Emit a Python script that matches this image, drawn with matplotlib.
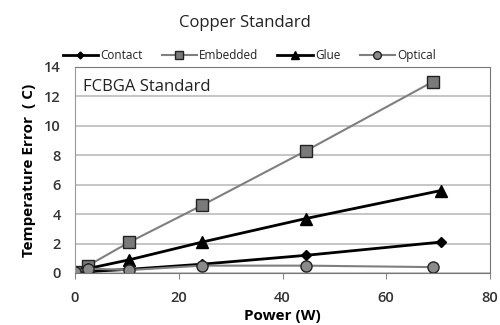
import matplotlib
matplotlib.use('Agg')
import matplotlib.pyplot as plt

power = [0, 2.5, 10.5, 24.5, 44.5, 70.5]
power_emb = [0, 2.5, 10.5, 24.5, 44.5, 69]
power_opt = [0, 2.5, 10.5, 24.5, 44.5, 69]
contact = [0.05, 0.1, 0.25, 0.6, 1.2, 2.1]
embedded = [0.1, 0.5, 2.1, 4.6, 8.3, 13.0]
glue = [0.05, 0.3, 0.9, 2.1, 3.7, 5.6]
optical = [0.05, 0.3, 0.2, 0.5, 0.5, 0.4]

plt.rcParams['font.family'] = 'Open Sans'
plt.rcParams['text.color'] = '#222222'

fig = plt.figure(figsize=(5, 3.25), dpi=100)
ax = fig.add_axes([0.15, 0.16, 0.83, 0.634])

ax.plot(power, contact, color='black', lw=2, marker='D', ms=5, mfc='black', mec='black', label='Contact')
ax.plot(power_emb, embedded, color='#7f7f7f', lw=1.5, marker='s', ms=8, mfc='#7a7a7a', mec='#222222', label='Embedded')
ax.plot(power, glue, color='black', lw=2, marker='^', ms=8, mfc='black', mec='black', label='Glue')
ax.plot(power_opt, optical, color='#7f7f7f', lw=1.5, marker='o', ms=8, mfc='#8a8a8a', mec='#222222', label='Optical')

ax.set_xlim(0, 80)
ax.set_ylim(0, 14)
ax.set_xticks([0, 20, 40, 60, 80])
ax.set_yticks(range(0, 15, 2))
ax.yaxis.grid(True, color='#bbbbbb', lw=1.2)
ax.set_axisbelow(True)
ax.tick_params(axis='x', direction='out', length=4, color='#888888', labelsize=10.5, pad=9, labelcolor='#333333')
ax.tick_params(axis='y', length=0, labelsize=10.5, pad=10, labelcolor='#333333')
for lbl in ax.get_xticklabels() + ax.get_yticklabels():
    lbl.set_fontweight('semibold')
for s in ax.spines.values():
    s.set_color('#777777')
ax.spines['left'].set_color('#999999')

ax.set_xlabel('Power (W)', fontweight='bold', fontsize=11, labelpad=3)
ax.set_ylabel('Temperature Error  ( C)', fontweight='bold', fontsize=11, labelpad=6)
ax.text(0.02, 0.94, 'FCBGA Standard', transform=ax.transAxes, fontsize=12, va='top')

fig.suptitle('Copper Standard', x=0.49, y=0.955, fontsize=12)
ax.legend(loc='lower center', bbox_to_anchor=(0.42, 0.99), ncol=4, frameon=False,
          fontsize=8.5, handlelength=3, handletextpad=0.2, columnspacing=1.6, markerscale=0.7,
          borderaxespad=0.2)

fig.savefig('out.png')
